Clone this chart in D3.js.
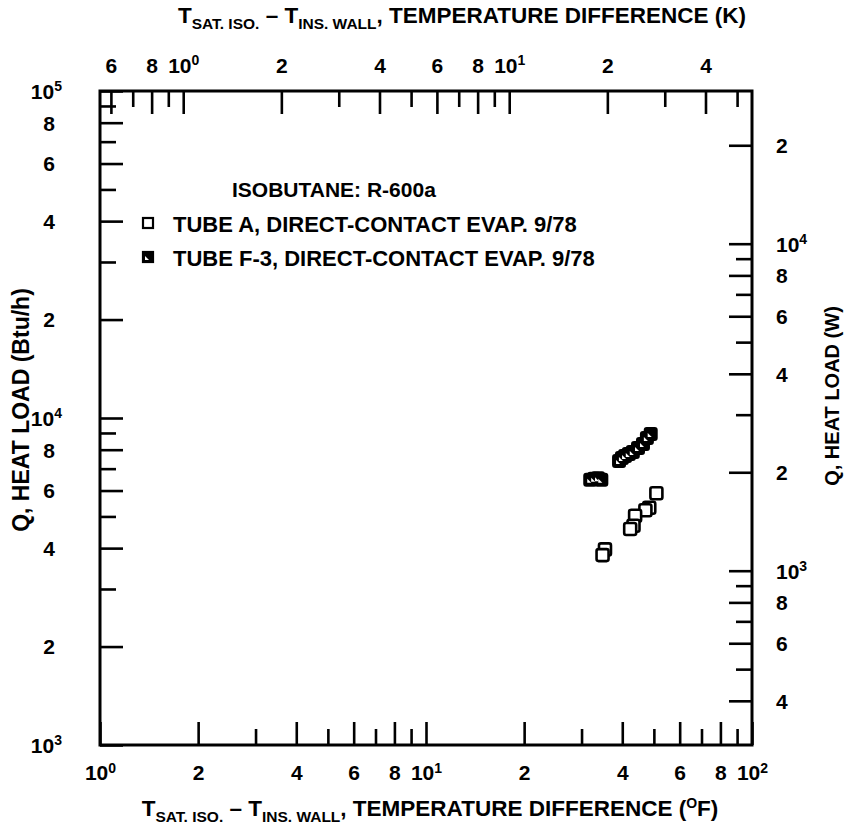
<!DOCTYPE html>
<html><head><meta charset="utf-8">
<script src="https://cdn.jsdelivr.net/npm/d3@7"></script>
<style>
body{margin:0;background:#fff;}
svg text{font-family:"Liberation Sans",Arial,Helvetica,sans-serif;font-weight:bold;fill:#000;}
</style></head><body>
<svg id="c" width="846" height="826"></svg>
<script>
// ---- data ----
const tubeA_dT = [50.9, 48.4, 47.1, 43.8, 43.3, 42.3, 35.4, 34.8];
const tubeA_Q  = [5886, 5317, 5224, 5026, 4685, 4578, 3964, 3808];
const tubeF3_dT = [31.9, 32.8, 33.7, 34.5, 39.1, 39.9, 40.8, 41.9, 43.1, 44.7, 46.3, 47.6, 48.9];
const tubeF3_Q  = [6471, 6517, 6540, 6471, 7393, 7551, 7657, 7766, 7877, 8101, 8331, 8690, 8937];

// tick values & labels
const bottomTicks  = [1,2,3,4,5,6,7,8,9,10,20,30,40,50,60,70,80,90,100];
const bottomLabels = ["10^0","2","","4","","6","","8","","10^1","2","","4","","6","","8","","10^2"];
const leftTicks  = [1000,2000,3000,4000,5000,6000,7000,8000,9000,10000,20000,30000,40000,50000,60000,70000,80000,90000,100000];
const leftLabels = ["10^3","2","","4","","6","","8","","10^4","2","","4","","6","","8","","10^5"];
const topTicksK  = [0.6,0.7,0.8,0.9,1,2,3,4,5,6,7,8,9,10,20,30,40,50];
const topLabelsK = ["6","","8","","10^0","2","","4","","6","","8","","10^1","2","","4",""];
const rightTicksW  = [400,500,600,700,800,900,1000,2000,3000,4000,5000,6000,7000,8000,9000,10000,20000];
const rightLabelsW = ["4","","6","","8","","10^3","2","","4","","6","","8","","10^4","2"];

const F_PER_K = 1.8, W_PER_BTUH = 0.29307;

// ---- layout ----
const L = 100, R = 752, T = 91, B = 745;
const svg = d3.select("#c");

const x = d3.scaleLog().domain([1, 100]).range([L, R]);
const y = d3.scaleLog().domain([1000, 100000]).range([B, T]);
const xK = d3.scaleLog().domain([1 / F_PER_K, 100 / F_PER_K]).range([L, R]);
const yW = d3.scaleLog().domain([1000 * W_PER_BTUH, 100000 * W_PER_BTUH]).range([B, T]);

const LONG = 23, SHORT = 16, FS = 21, SUP = 14;

function labelOf(ticks, labels) {
  const m = new Map(ticks.map((t, i) => [t, labels[i]]));
  return v => m.get(v) || "";
}
function supText(sel) {
  sel.each(function () {
    const t = d3.select(this);
    const s = t.text();
    if (s.includes("^")) {
      const [a, b] = s.split("^");
      t.text(a);
      t.append("tspan").attr("font-size", SUP).attr("dy", "-0.55em").text(b);
    }
  });
}
function styleAxis(g, labFn, orient) {
  g.select(".domain").remove();
  g.selectAll(".tick line").attr("stroke", "#000").attr("stroke-width", 2.6);
  g.selectAll(".tick text").attr("font-size", FS).attr("fill", "#000");
  g.selectAll(".tick").each(function (d) {
    const len = labFn(d) ? LONG : SHORT;
    const ln = d3.select(this).select("line");
    if (orient === "bottom") ln.attr("y2", -len);
    if (orient === "top") ln.attr("y2", len);
    if (orient === "left") ln.attr("x2", len);
    if (orient === "right") ln.attr("x2", -len);
  });
  supText(g.selectAll(".tick text"));
}

// bottom axis (°F)
const fb = labelOf(bottomTicks, bottomLabels);
const gB = svg.append("g").attr("transform", `translate(0,${B})`)
  .call(d3.axisBottom(x).tickValues(bottomTicks).tickFormat(fb).tickSizeInner(-LONG).tickSizeOuter(0));
gB.selectAll(".tick text").attr("dy", "0.35em").attr("y", 28);
styleAxis(gB, fb, "bottom");

// top axis (K)
const ft = labelOf(topTicksK, topLabelsK);
const gT = svg.append("g").attr("transform", `translate(0,${T})`)
  .call(d3.axisTop(xK).tickValues(topTicksK).tickFormat(ft).tickSizeInner(-LONG).tickSizeOuter(0));
gT.selectAll(".tick text").attr("y", -18).attr("dy", "0");
styleAxis(gT, ft, "top");

// left axis (Btu/h)
const fl = labelOf(leftTicks, leftLabels);
const gL = svg.append("g").attr("transform", `translate(${L},0)`)
  .call(d3.axisLeft(y).tickValues(leftTicks).tickFormat(fl).tickSizeInner(-LONG).tickSizeOuter(0));
gL.selectAll(".tick text").attr("text-anchor", "end").attr("dy", "0.35em")
  .attr("x", d => (fl(d).includes("^") ? -38 : -45));
styleAxis(gL, fl, "left");

// right axis (W)
const fr = labelOf(rightTicksW, rightLabelsW);
const gR = svg.append("g").attr("transform", `translate(${R},0)`)
  .call(d3.axisRight(yW).tickValues(rightTicksW).tickFormat(fr).tickSizeInner(-LONG).tickSizeOuter(0));
gR.selectAll(".tick text").attr("text-anchor", "start").attr("dy", "0.35em").attr("x", 24);
styleAxis(gR, fr, "right");

// frame
svg.append("rect").attr("x", L).attr("y", T).attr("width", R - L).attr("height", B - T)
  .attr("fill", "none").attr("stroke", "#000").attr("stroke-width", 3);

// data
const S = 12;
const A = tubeA_dT.map((d, i) => ({ x: d, q: tubeA_Q[i] }));
const Fd = tubeF3_dT.map((d, i) => ({ x: d, q: tubeF3_Q[i] }));
svg.append("g").selectAll("rect").data(A).join("rect")
  .attr("x", d => x(d.x) - S / 2).attr("y", d => y(d.q) - S / 2)
  .attr("width", S).attr("height", S).attr("rx", 2)
  .attr("fill", "#fff").attr("stroke", "#000").attr("stroke-width", 2.6);
const gF = svg.append("g");
gF.selectAll("rect").data(Fd).join("rect")
  .attr("x", d => x(d.x) - S / 2).attr("y", d => y(d.q) - S / 2)
  .attr("width", S).attr("height", S).attr("rx", 2)
  .attr("fill", "#000").attr("stroke", "#000").attr("stroke-width", 2);
gF.selectAll("path").data(Fd).join("path")
  .attr("d", d => { const cx = x(d.x), cy = y(d.q); return `M${cx - 3},${cy + 3}L${cx + 1},${cy + 3}L${cx - 3},${cy - 1}Z`; })
  .attr("fill", "#fff");

// legend
const LF = 22;
const lg = svg.append("g");
lg.append("text").attr("x", 232).attr("y", 197).attr("font-size", 21).text("ISOBUTANE: R-600a");
lg.append("rect").attr("x", 143).attr("y", 218).attr("width", 10).attr("height", 10)
  .attr("fill", "#fff").attr("stroke", "#000").attr("stroke-width", 2.2);
lg.append("text").attr("x", 173).attr("y", 232).attr("font-size", LF).text("TUBE A, DIRECT-CONTACT EVAP. 9/78");
lg.append("rect").attr("x", 143).attr("y", 252).attr("width", 10).attr("height", 10)
  .attr("fill", "#000").attr("stroke", "#000").attr("stroke-width", 2.2);
lg.append("path").attr("d", "M145,260L149,260L145,256Z").attr("fill", "#fff");
lg.append("text").attr("x", 173).attr("y", 266).attr("font-size", LF).text("TUBE F-3, DIRECT-CONTACT EVAP. 9/78");

// axis titles
function tempTitle(xc, yc, unit) {
  const t = svg.append("text").attr("x", xc).attr("y", yc).attr("text-anchor", "middle").attr("font-size", 22.5);
  t.append("tspan").text("T");
  t.append("tspan").attr("font-size", 15.5).attr("dy", 6).text("SAT. ISO.");
  t.append("tspan").attr("dy", -6).text(" \u2013 T");
  t.append("tspan").attr("font-size", 15.5).attr("dy", 6).text("INS. WALL");
  t.append("tspan").attr("dy", -6).text(", TEMPERATURE DIFFERENCE (");
  if (unit === "F") {
    t.append("tspan").attr("font-size", 14).attr("dy", -8).text("O");
    t.append("tspan").attr("dy", 8).text("F)");
  } else {
    t.append("tspan").text("K)");
  }
}
tempTitle(462, 23, "K");
tempTitle(430, 816, "F");

svg.append("text").attr("transform", "translate(29,410) rotate(-90)").attr("text-anchor", "middle")
  .attr("font-size", 23).text("Q, HEAT LOAD (Btu/h)");
svg.append("text").attr("transform", "translate(839,396) rotate(-90)").attr("text-anchor", "middle")
  .attr("font-size", 20).text("Q, HEAT LOAD (W)");
</script>
</body></html>
